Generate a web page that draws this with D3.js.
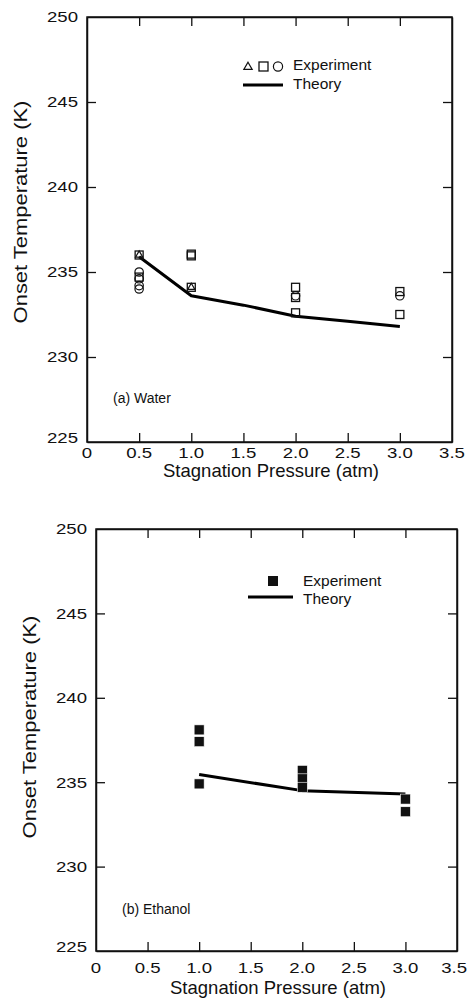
<!DOCTYPE html>
<html>
<head>
<meta charset="utf-8">
<script src="https://cdn.jsdelivr.net/npm/d3@7"></script>
<style>
  html, body { margin: 0; padding: 0; background: #fff; }
  svg { display: block; }
  text { font-family: "Liberation Sans", Arial, Helvetica, sans-serif; fill: #111; }
</style>
</head>
<body>
<svg id="chart" width="468" height="999"></svg>
<script>
// ---- data ----
const pressureTicks = [0, 0.5, 1.0, 1.5, 2.0, 2.5, 3.0, 3.5];
const pressureTickLabels = ["0", "0.5", "1.0", "1.5", "2.0", "2.5", "3.0", "3.5"];
const tempTicks = [225, 230, 235, 240, 245, 250];

// (a) Water: experimental onset temperatures by marker shape
const waterTriangles = [[0.5, 236.0], [1.0, 234.1]];
const waterSquares = [
  [0.5, 236.0], [0.5, 234.7],
  [1.0, 236.05], [1.0, 235.95], [1.0, 234.1],
  [2.0, 234.1], [2.0, 233.5], [2.0, 232.6],
  [3.0, 233.85], [3.0, 232.5]
];
const waterCircles = [
  [0.5, 235.0], [0.5, 234.6], [0.5, 234.2], [0.5, 234.0],
  [2.0, 233.6], [3.0, 233.6]
];
const waterTheory = [[0.5, 235.9], [1.0, 233.6], [1.5, 233.05], [2.0, 232.4], [2.5, 232.1], [3.0, 231.8]];

// (b) Ethanol
const ethanolSquares = [
  [1.0, 238.1], [1.0, 237.4], [1.0, 234.9],
  [2.0, 235.7], [2.0, 235.2], [2.0, 234.7],
  [3.0, 234.0], [3.0, 233.25]
];
const ethanolTheory = [[1.0, 235.45], [2.0, 234.5], [3.0, 234.3]];

const W = 468;
const svg = d3.select("#chart");
const STRETCH = 1.2;   // typeface in this figure runs wide

function panel(cfg) {
  const x = d3.scaleLinear().domain([0, 3.5]).range(cfg.xr);
  const y = d3.scaleLinear().domain([225, 250]).range(cfg.yr);
  const g = svg.append("g");
  const axisStroke = 1.5;
  const tick = 9;

  // frame axes with inward ticks on all four sides
  const bottom = g.append("g").attr("transform", `translate(0,${cfg.yr[0]})`)
    .call(d3.axisBottom(x).tickValues(pressureTicks.slice(1, -1)).tickSizeInner(-tick).tickSizeOuter(0).tickFormat(""));
  const top = g.append("g").attr("transform", `translate(0,${cfg.yr[1]})`)
    .call(d3.axisTop(x).tickValues(pressureTicks.slice(1, -1)).tickSizeInner(-tick).tickSizeOuter(0).tickFormat(""));
  const left = g.append("g").attr("transform", `translate(${cfg.xr[0]},0)`)
    .call(d3.axisLeft(y).tickValues(tempTicks.slice(1, -1)).tickSizeInner(-tick).tickSizeOuter(0).tickFormat(""));
  const right = g.append("g").attr("transform", `translate(${cfg.xr[1]},0)`)
    .call(d3.axisRight(y).tickValues(tempTicks.slice(1, -1)).tickSizeInner(-tick).tickSizeOuter(0).tickFormat(""));
  [bottom, top, left, right].forEach(a => {
    a.selectAll("path.domain").attr("stroke", "#111").attr("stroke-width", axisStroke);
    a.selectAll("line").attr("stroke", "#111").attr("stroke-width", 1.3);
  });
  g.append("rect")
    .attr("x", x(0)).attr("y", y(250))
    .attr("width", x(3.5) - x(0)).attr("height", y(225) - y(250))
    .attr("fill", "none").attr("stroke", "#111").attr("stroke-width", axisStroke);

  // tick labels (kept inside the page at the right edge)
  g.append("g").selectAll("text").data(pressureTicks).join("text")
    .attr("text-anchor", "middle").attr("font-size", 15.5)
    .text((d, i) => pressureTickLabels[i])
    .attr("transform", function (d) {
      const half = this.getComputedTextLength() * STRETCH / 2;
      const cx = Math.min(x(d), W - 1 - half);
      return `translate(${cx},${cfg.yr[0] + cfg.xLabelOff}) scale(${STRETCH},1)`;
    });
  g.append("g").selectAll("text").data(tempTicks).join("text")
    .attr("transform", d => `translate(${cfg.xr[0] - 9},${y(d) + (d === 225 ? -4 : 0)}) scale(${STRETCH},1)`)
    .attr("dy", "0.35em")
    .attr("text-anchor", "end").attr("font-size", 15.5)
    .text(d => d);

  // axis titles
  g.append("text")
    .attr("x", cfg.xTitle[0]).attr("y", cfg.xTitle[1])
    .attr("text-anchor", "middle").attr("font-size", 18.5)
    .text("Stagnation Pressure (atm)");
  g.append("text")
    .attr("transform", `translate(${cfg.yTitle[0]},${cfg.yTitle[1]}) rotate(-90) scale(1.22,1)`)
    .attr("text-anchor", "middle").attr("font-size", 18).attr("dy", "0.35em")
    .text("Onset Temperature (K)");

  // panel caption
  g.append("text")
    .attr("x", cfg.caption[0]).attr("y", cfg.caption[1])
    .attr("font-size", 14).attr("dy", "0.35em")
    .text(cfg.captionText);

  return { g, x, y };
}

function theoryLine(p, data) {
  p.g.append("path")
    .datum(data)
    .attr("fill", "none").attr("stroke", "#000").attr("stroke-width", 3)
    .attr("stroke-linejoin", "round")
    .attr("d", d3.line().x(d => p.x(d[0])).y(d => p.y(d[1])));
}

const sqOpen = 8, circR = 4.2;

// ---- (a) Water ----
const a = panel({
  xr: [87, 452], yr: [442, 17], xLabelOff: 16,
  xTitle: [271, 477], yTitle: [21, 212],
  caption: [113, 398], captionText: "(a) Water"
});
theoryLine(a, waterTheory);
a.g.append("g").selectAll("rect").data(waterSquares).join("rect")
  .attr("x", d => a.x(d[0]) - sqOpen / 2).attr("y", d => a.y(d[1]) - sqOpen / 2)
  .attr("width", sqOpen).attr("height", sqOpen)
  .attr("fill", "none").attr("stroke", "#111").attr("stroke-width", 1.3);
a.g.append("g").selectAll("circle").data(waterCircles).join("circle")
  .attr("cx", d => a.x(d[0])).attr("cy", d => a.y(d[1])).attr("r", circR)
  .attr("fill", "none").attr("stroke", "#111").attr("stroke-width", 1.2);
a.g.append("g").selectAll("path").data(waterTriangles).join("path")
  .attr("transform", d => `translate(${a.x(d[0])},${a.y(d[1])})`)
  .attr("d", d3.symbol(d3.symbolTriangle, 22))
  .attr("fill", "none").attr("stroke", "#111").attr("stroke-width", 1.2);

// legend (a)
const la = a.g.append("g");
la.append("path").attr("transform", "translate(248,67)")
  .attr("d", d3.symbol(d3.symbolTriangle, 30))
  .attr("fill", "none").attr("stroke", "#111").attr("stroke-width", 1.2);
la.append("rect").attr("x", 259).attr("y", 62).attr("width", 9).attr("height", 9)
  .attr("fill", "none").attr("stroke", "#111").attr("stroke-width", 1.3);
la.append("circle").attr("cx", 278).attr("cy", 66.5).attr("r", 4.6)
  .attr("fill", "none").attr("stroke", "#111").attr("stroke-width", 1.2);
la.append("text").attr("x", 293).attr("y", 65).attr("dy", "0.35em").attr("font-size", 15.5).text("Experiment");
la.append("line").attr("x1", 243).attr("x2", 283).attr("y1", 85).attr("y2", 85)
  .attr("stroke", "#000").attr("stroke-width", 3);
la.append("text").attr("x", 293).attr("y", 84).attr("dy", "0.35em").attr("font-size", 15.5).text("Theory");

// ---- (b) Ethanol ----
const b = panel({
  xr: [96, 457], yr: [951, 529], xLabelOff: 22,
  xTitle: [278, 994], yTitle: [30, 727],
  caption: [122, 909], captionText: "(b) Ethanol"
});
theoryLine(b, ethanolTheory);
const sqFill = 10;
b.g.append("g").selectAll("rect").data(ethanolSquares).join("rect")
  .attr("x", d => b.x(d[0]) - sqFill / 2).attr("y", d => b.y(d[1]) - sqFill / 2)
  .attr("width", sqFill).attr("height", sqFill)
  .attr("fill", "#111").attr("stroke", "#fff").attr("stroke-width", 0.6);

// legend (b)
const lb = b.g.append("g");
lb.append("rect").attr("x", 268).attr("y", 576).attr("width", 10).attr("height", 10).attr("fill", "#111");
lb.append("text").attr("x", 303).attr("y", 581).attr("dy", "0.35em").attr("font-size", 15.5).text("Experiment");
lb.append("line").attr("x1", 248).attr("x2", 293).attr("y1", 597).attr("y2", 597)
  .attr("stroke", "#000").attr("stroke-width", 3);
lb.append("text").attr("x", 303).attr("y", 599).attr("dy", "0.35em").attr("font-size", 15.5).text("Theory");
</script>
</body>
</html>
